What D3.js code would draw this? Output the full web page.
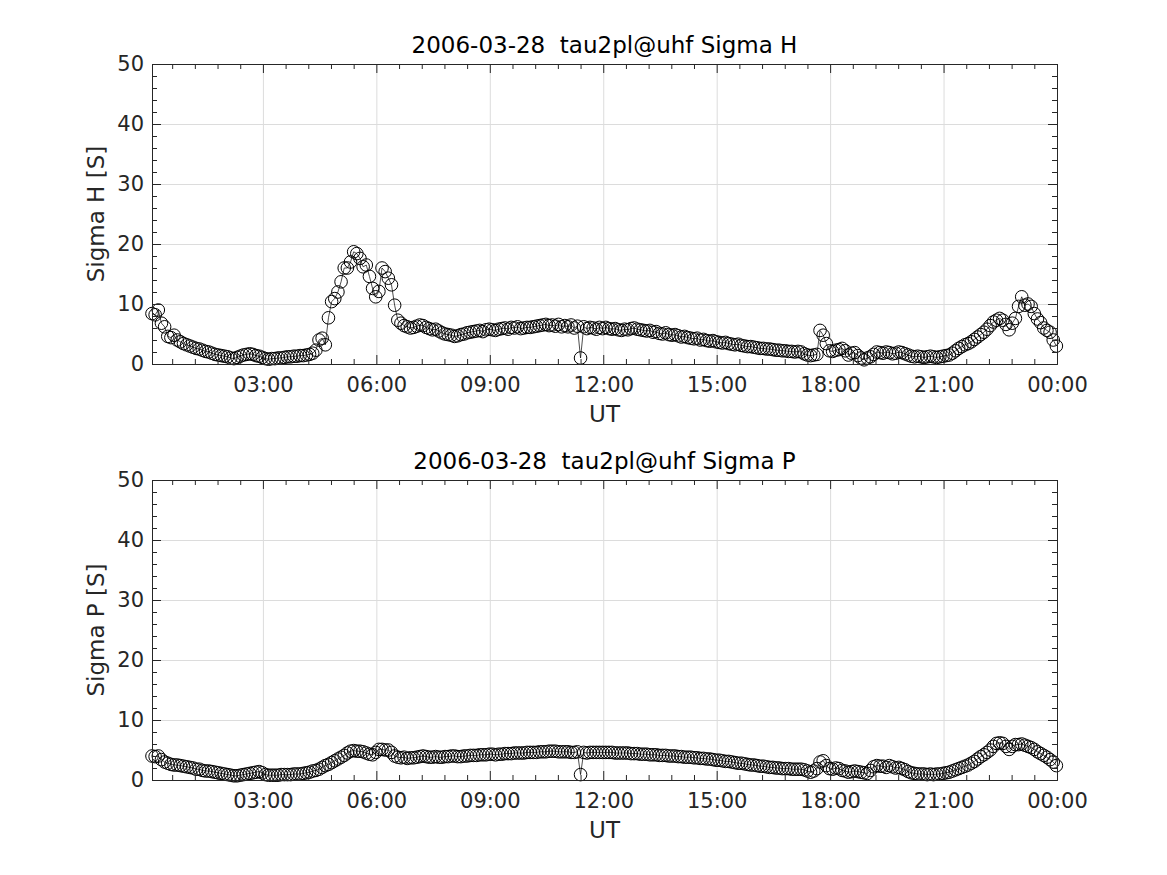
<!DOCTYPE html>
<html>
<head>
<meta charset="utf-8">
<style>
  body { margin: 0; background: #fff; font-family: "DejaVu Sans", sans-serif; }
  .grid line { stroke: #dcdcdc; stroke-width: 1; }
  .grid .domain { display: none; }
  .axis path, .axis line { stroke: #262626; stroke-width: 1; }
  .axis text { fill: #262626; font-size: 21px; font-family: "DejaVu Sans", sans-serif; }
</style>
<title>Sigma H / Sigma P</title>
</head>
<body>
<div id="chart"></div>
<script src="https://cdn.jsdelivr.net/npm/d3@7"></script>
<script>
// data: one sample every 5 minutes, first one at 00:04 UT
const dateLabel = "2006-03-28";
const siteLabel = "tau2pl@uhf";
const startMin = 4, stepMin = 5;
const tickHours = [3, 6, 9, 12, 15, 18, 21, 24];
const tickLabels = ["03:00", "06:00", "09:00", "12:00", "15:00", "18:00", "21:00", "00:00"];
const yTicks = [0, 10, 20, 30, 40, 50];

const sigmaH = [
  8.4, 8.2, 9.0, 6.8, 6.2, 4.6, 4.4, 4.8, 4.0, 3.7, 3.4, 3.2,
  3.0, 2.8, 2.6, 2.5, 2.3, 2.1, 2.0, 1.8, 1.6, 1.5, 1.4, 1.3,
  1.2, 1.0, 0.9, 1.1, 1.3, 1.5, 1.6, 1.7, 1.6, 1.4, 1.3, 1.1,
  0.9, 0.8, 0.9, 0.9, 1.0, 1.0, 1.1, 1.2, 1.2, 1.3, 1.3, 1.4,
  1.4, 1.5, 1.6, 1.8, 2.3, 4.0, 4.3, 3.2, 7.7, 10.4, 10.9, 12.0,
  13.7, 16.0, 16.0, 17.0, 18.7, 18.4, 17.6, 16.2, 16.5, 14.6, 12.6, 11.2,
  12.1, 16.0, 15.4, 14.3, 13.2, 9.8, 7.3, 6.8, 6.4, 6.2, 6.0, 6.1,
  6.3, 6.5, 6.4, 6.1, 5.9, 5.7, 5.8, 5.5, 5.2, 5.0, 4.9, 4.8,
  4.6, 4.7, 4.9, 5.0, 5.2, 5.3, 5.4, 5.5, 5.6, 5.4, 5.7, 5.8,
  5.7, 5.6, 5.8, 5.9, 6.0, 5.8, 6.1, 6.0, 6.2, 5.9, 6.0, 6.1,
  6.1, 6.2, 6.3, 6.4, 6.5, 6.6, 6.4, 6.5, 6.3, 6.6, 6.2, 6.4,
  6.2, 6.5, 6.0, 6.3, 1.0, 6.2, 5.9, 6.1, 6.0, 5.8, 6.1, 5.9,
  6.1, 5.9, 5.8, 5.9, 5.7, 5.6, 5.8, 5.7, 5.9, 6.0, 5.8, 5.7,
  5.6, 5.5, 5.6, 5.3, 5.4, 5.1, 5.0, 5.2, 4.9, 4.8, 4.9, 4.7,
  4.5, 4.6, 4.4, 4.3, 4.2, 4.3, 4.0, 4.1, 3.9, 3.8, 3.9, 3.7,
  3.6, 3.5, 3.6, 3.4, 3.3, 3.2, 3.3, 3.1, 3.0, 2.9, 2.9, 2.8,
  2.7, 2.6, 2.6, 2.5, 2.5, 2.4, 2.3, 2.3, 2.2, 2.2, 2.1, 2.1,
  2.0, 2.1, 2.0, 1.7, 1.5, 1.4, 1.5, 1.6, 5.6, 4.8, 3.4, 2.2,
  2.1, 2.3, 2.4, 2.6, 2.2, 1.5, 1.8, 1.9, 1.4, 1.0, 0.7, 1.0,
  1.2, 1.6, 2.0, 1.9, 1.8, 2.0, 1.9, 1.7, 1.8, 2.0, 1.9, 1.7,
  1.5, 1.3, 1.2, 1.3, 1.2, 1.1, 1.2, 1.3, 1.2, 1.1, 1.2, 1.3,
  1.4, 1.5, 1.8, 2.2, 2.6, 2.9, 3.2, 3.4, 3.7, 4.1, 4.5, 4.9,
  5.3, 5.8, 6.4, 7.0, 7.3, 7.6, 7.3, 6.6, 5.7, 6.8, 7.6, 9.6,
  11.2, 9.8, 10.0, 9.6, 8.4, 7.5, 6.9, 6.0, 5.6, 5.3, 4.0, 3.0
];

const sigmaP = [
  4.0, 3.9, 4.0, 3.4, 3.0, 2.8, 2.6, 2.5, 2.5, 2.4, 2.3, 2.2,
  2.1, 2.0, 1.8, 1.8, 1.6, 1.5, 1.5, 1.4, 1.3, 1.2, 1.1, 1.0,
  0.9, 0.8, 0.7, 0.7, 0.8, 0.9, 1.0, 1.1, 1.2, 1.3, 1.4, 1.2,
  0.9, 0.8, 0.8, 0.8, 0.8, 0.9, 0.9, 0.9, 0.9, 1.0, 1.0, 1.0,
  1.1, 1.2, 1.3, 1.5, 1.6, 1.8, 2.1, 2.4, 2.6, 2.9, 3.2, 3.5,
  3.8, 4.1, 4.5, 4.8, 4.9, 4.8, 4.8, 4.7, 4.5, 4.3, 4.2, 4.6,
  5.1, 5.1, 5.0, 5.0, 4.6, 4.0, 3.8, 3.7, 3.8, 3.6, 3.7, 3.7,
  3.8, 3.9, 4.0, 3.9, 3.8, 3.8, 3.9, 3.8, 3.8, 3.9, 3.9, 4.0,
  4.0, 3.9, 3.9, 4.0, 4.0, 4.1, 4.1, 4.1, 4.2, 4.2, 4.2, 4.3,
  4.3, 4.2, 4.3, 4.3, 4.4, 4.4, 4.4, 4.5, 4.5, 4.5, 4.5, 4.6,
  4.6, 4.6, 4.6, 4.7, 4.7, 4.7, 4.8, 4.8, 4.8, 4.7, 4.7, 4.7,
  4.7, 4.6, 4.6, 4.7, 0.9, 4.6, 4.5, 4.6, 4.6, 4.6, 4.6, 4.6,
  4.6, 4.6, 4.6, 4.5, 4.5, 4.5, 4.5, 4.5, 4.4, 4.4, 4.4, 4.3,
  4.3, 4.3, 4.2, 4.2, 4.2, 4.1, 4.1, 4.1, 4.0, 4.0, 4.0, 3.9,
  3.9, 3.8, 3.8, 3.8, 3.7, 3.7, 3.6, 3.6, 3.5, 3.5, 3.4, 3.3,
  3.3, 3.2, 3.1, 3.1, 3.0, 2.9, 2.8, 2.8, 2.7, 2.6, 2.5, 2.5,
  2.4, 2.3, 2.3, 2.2, 2.1, 2.1, 2.0, 2.0, 1.9, 1.9, 1.9, 1.8,
  1.8, 1.8, 1.8, 1.7, 1.5, 1.3, 1.5, 1.9, 3.0, 3.2, 2.4, 1.9,
  1.8, 2.0, 1.9, 1.6, 1.5, 1.3, 1.4, 1.5, 1.4, 1.3, 1.2, 1.1,
  1.6, 2.2, 2.4, 2.3, 2.3, 2.1, 2.4, 2.2, 2.0, 2.1, 1.9, 1.7,
  1.4, 1.2, 1.1, 1.0, 1.0, 1.0, 0.9, 1.0, 0.9, 1.0, 1.0, 1.1,
  1.2, 1.3, 1.5, 1.7, 1.9, 2.1, 2.3, 2.5, 2.8, 3.1, 3.5, 3.9,
  4.2, 4.6, 5.0, 5.6, 6.1, 6.2, 6.1, 5.6, 5.1, 5.6, 5.9, 5.9,
  6.0, 5.8, 5.6, 5.4, 5.1, 4.7, 4.4, 4.1, 3.8, 3.4, 3.0, 2.4
];

const width = 1167, height = 875;
const left = 152, plotW = 905, plotH = 300;
const majorLen = 9, minorLen = 5;

const svg = d3.select("#chart").append("svg")
  .attr("width", width)
  .attr("height", height);

svg.append("rect").attr("width", width).attr("height", height).attr("fill", "#fff");

const x = d3.scaleLinear().domain([startMin, 1440]).range([0, plotW]);
const y = d3.scaleLinear().domain([0, 50]).range([plotH, 0]);

const tickMins = tickHours.map(h => h * 60);
const minorMins = d3.range(36, 1440, 36).filter(m => m % 180 !== 0 && m > startMin);
const minorY = d3.range(0, 51, 2).filter(v => v % 10 !== 0);

function drawPanel(top, values, name) {
  const g = svg.append("g").attr("transform", "translate(" + left + "," + top + ")");

  // grid
  g.append("g").attr("class", "grid")
    .attr("transform", "translate(0," + plotH + ")")
    .call(d3.axisBottom(x).tickValues(tickMins.slice(0, -1)).tickSize(-plotH).tickFormat(""));
  g.append("g").attr("class", "grid")
    .call(d3.axisLeft(y).tickValues(yTicks.slice(1, -1)).tickSize(-plotW).tickFormat(""));

  const pts = values.map((v, i) => [startMin + i * stepMin, v]);

  g.append("path")
    .datum(pts)
    .attr("fill", "none")
    .attr("stroke", "#000")
    .attr("stroke-width", 0.7)
    .attr("d", d3.line().x(d => x(d[0])).y(d => y(d[1])));

  g.selectAll("circle.pt")
    .data(pts)
    .enter().append("circle")
    .attr("class", "pt")
    .attr("cx", d => x(d[0]))
    .attr("cy", d => y(d[1]))
    .attr("r", 6.3)
    .attr("fill", "none")
    .attr("stroke", "#000")
    .attr("stroke-width", 1);

  // axes, ticks pointing inward on all four sides
  g.append("g").attr("class", "axis")
    .attr("transform", "translate(0," + plotH + ")")
    .call(d3.axisBottom(x).tickValues(tickMins).tickSizeInner(-majorLen).tickSizeOuter(0)
      .tickPadding(13).tickFormat((d, i) => tickLabels[i]));
  g.append("g").attr("class", "axis")
    .attr("transform", "translate(0," + plotH + ")")
    .call(d3.axisBottom(x).tickValues(minorMins).tickSizeInner(-minorLen).tickSizeOuter(0).tickFormat(""));
  g.append("g").attr("class", "axis")
    .call(d3.axisTop(x).tickValues(tickMins).tickSizeInner(-majorLen).tickSizeOuter(0).tickFormat(""));
  g.append("g").attr("class", "axis")
    .call(d3.axisTop(x).tickValues(minorMins).tickSizeInner(-minorLen).tickSizeOuter(0).tickFormat(""));

  g.append("g").attr("class", "axis")
    .call(d3.axisLeft(y).tickValues(yTicks).tickSizeInner(-majorLen).tickSizeOuter(0).tickPadding(8));
  g.append("g").attr("class", "axis")
    .call(d3.axisLeft(y).tickValues(minorY).tickSizeInner(-minorLen).tickSizeOuter(0).tickFormat(""));
  g.append("g").attr("class", "axis")
    .attr("transform", "translate(" + plotW + ",0)")
    .call(d3.axisRight(y).tickValues(yTicks).tickSizeInner(-majorLen).tickSizeOuter(0).tickFormat(""));
  g.append("g").attr("class", "axis")
    .attr("transform", "translate(" + plotW + ",0)")
    .call(d3.axisRight(y).tickValues(minorY).tickSizeInner(-minorLen).tickSizeOuter(0).tickFormat(""));

  // title and labels
  g.append("text")
    .attr("x", plotW / 2)
    .attr("y", -11)
    .attr("text-anchor", "middle")
    .style("font-size", "23px")
    .style("fill", "#000")
    .text(dateLabel + "\u00a0\u00a0" + siteLabel + " " + name);

  g.append("text")
    .attr("x", plotW / 2)
    .attr("y", plotH + 58)
    .attr("text-anchor", "middle")
    .style("font-size", "23px")
    .style("fill", "#262626")
    .text("UT");

  g.append("text")
    .attr("transform", "translate(-48," + (plotH / 2) + ") rotate(-90)")
    .attr("text-anchor", "middle")
    .style("font-size", "23px")
    .style("fill", "#262626")
    .text(name + " [S]");
}

drawPanel(64, sigmaH, "Sigma H");
drawPanel(480, sigmaP, "Sigma P");
</script>
</body>
</html>
